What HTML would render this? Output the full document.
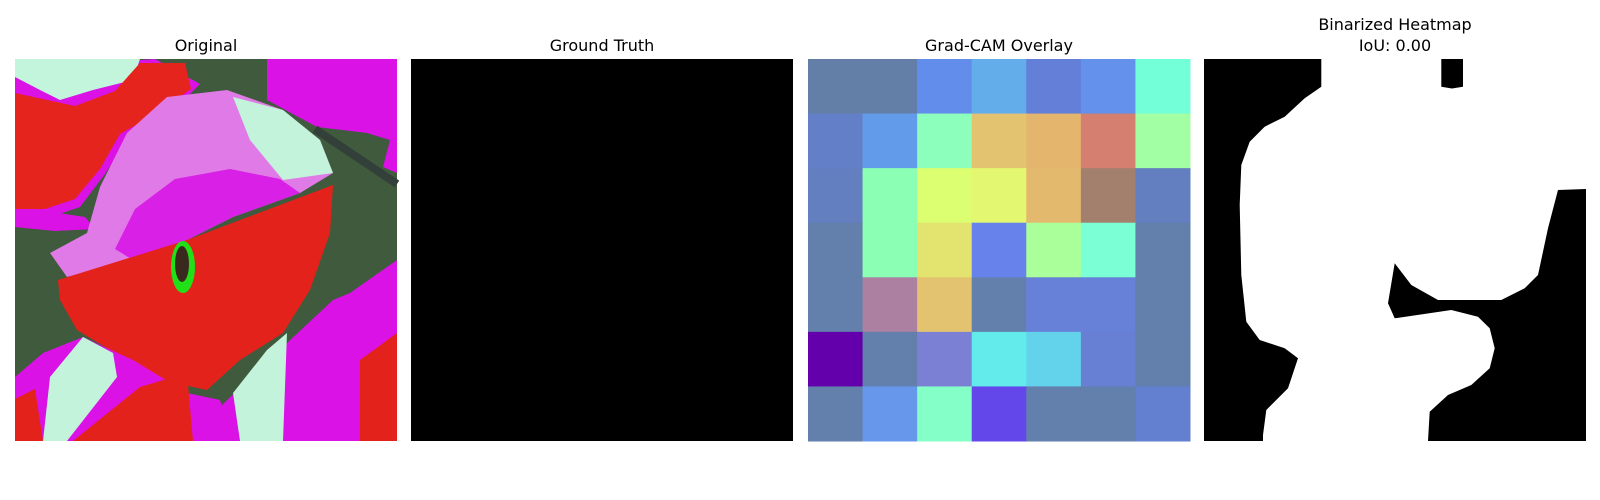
<!DOCTYPE html>
<html><head><meta charset="utf-8"><style>
html,body{margin:0;padding:0;background:#fff;width:1600px;height:500px;overflow:hidden}
svg text{font-family:"DejaVu Sans","Liberation Sans",sans-serif;font-size:16px;fill:#000}
</style></head><body>
<svg id="fig" width="1600" height="500" viewBox="0 0 1600 500">
  <text x="206" y="51" text-anchor="middle">Original</text>
  <text x="602" y="51" text-anchor="middle">Ground Truth</text>
  <text x="999" y="51" text-anchor="middle">Grad-CAM Overlay</text>
  <text x="1395" y="30" text-anchor="middle">Binarized Heatmap</text>
  <text x="1395" y="51" text-anchor="middle">IoU: 0.00</text>

  <g transform="translate(15,59)">
    <rect width="382" height="382" fill="#3f5a3c"/>
    <polygon fill="#da12e6" points="0,10 140,0 185,25 150,60 110,85 90,115 65,148 30,160 0,158"/>
    <polygon fill="#c2f5dc" points="0,0 125,0 118,21 78,31 45,41 25,31 0,18"/>
    <polygon fill="#e6241e" points="0,34 60,47 100,32 125,4 170,4 176,30 140,55 105,75 85,110 60,140 30,150 0,150"/>
    <polygon fill="#da12e6" points="0,150 30,152 70,158 80,170 40,172 0,168"/>
    <polygon fill="#e07ae6" points="35,194 72,174 85,128 112,74 152,38 212,31 268,51 305,81 318,114 285,134 218,158 172,181 118,201 52,218"/>
    <polygon fill="#d820e6" points="120,150 160,120 215,110 265,120 285,134 218,158 172,181 118,201 100,190"/>
    <polygon fill="#c4f3dc" points="218,38 268,51 305,81 318,114 268,121 235,81"/>
    <polygon fill="#e4221c" points="43,221 172,181 318,126 315,174 295,231 268,274 225,301 192,331 145,321 95,291 62,271 45,241"/>
    <ellipse cx="168" cy="208" rx="12" ry="26" fill="#22e018"/>
    <ellipse cx="167" cy="205" rx="7" ry="18" fill="#3a2a1e"/>
    <polygon fill="#da12e6" points="252,0 382,0 382,114 368,108 375,81 352,74 302,68 252,41"/>
    <line x1="300" y1="70" x2="382" y2="125" stroke="#33403a" stroke-width="8"/>
    <polygon fill="#da12e6" points="335,234 382,201 382,382 218,382 205,348 272,284 318,241"/>
    <polygon fill="#e4221c" points="345,301 382,274 382,382 345,382"/>
    <polygon fill="#c4f3dc" points="218,334 252,291 272,274 268,382 225,382"/>
    <polygon fill="#da12e6" points="0,318 28,294 68,278 118,301 172,334 205,341 218,382 0,382"/>
    <polygon fill="#c4f3dc" points="28,382 35,318 68,278 98,294 102,318 52,382"/>
    <polygon fill="#e4221c" points="58,382 125,328 172,314 178,382"/>
    <polygon fill="#e4221c" points="0,340 20,330 28,382 0,382"/>
  </g>

  <rect x="411" y="59" width="382" height="382" fill="#000"/>

  <g id="gradcam" transform="translate(808,59)"></g>

  <g transform="translate(1204,59)">
    <rect width="382" height="382" fill="#000"/>
    <path fill="#fff" d="M117.3,0 L117.3,27.7 L100.7,39.3 L80.7,57.7 L60.7,67.7 L45.7,82.7 L37.3,106 L35.7,146 L37.3,216 L42.3,262.7 L55.7,281 L80.7,289.3 L94,299.3 L84,329.3 L62.3,351 L59,376 L59,382 L224,382 L225.7,352.7 L244,336 L267.3,326 L285.7,309.3 L290.7,289.3 L285.7,269.3 L274,257.7 L247.3,251 L190.7,259.3 L184,244.3 L190.7,204.3 L207.3,226 L234,241 L297.3,241 L320.7,229.3 L334,216 L344,169.3 L354,131 L382,130 L382,0 L259,0 L259,27.7 L248,29.5 L237.3,27.7 L237.3,0 Z"/>
  </g>
</svg>
<script>
const cellColors = [
 ["#637fa8","#637fa8","#638deb","#63adeb","#637fd8","#6391eb","#73ffd8"],
 ["#637fc8","#639beb","#8bffbb","#e3c370","#e3b56d","#d47f70","#a3ffa3"],
 ["#637fc0","#8bffb3","#dbff70","#e3f770","#e3b96d","#a3806d","#637fc0"],
 ["#637fac","#8bffb3","#e3e370","#6783eb","#abff9b","#7bffd4","#637fac"],
 ["#637fac","#ab80a0","#e3c370","#637fac","#6780d8","#6780d8","#637fac"],
 ["#6300ac","#637fac","#7b80d4","#63ebeb","#63d3eb","#6780d4","#637fac"],
 ["#637fac","#6797eb","#83ffc7","#6347eb","#637fac","#637fac","#637fd0"]
];
const gridRows = [0,1,2,3,4,5,6];
const gridCols = [0,1,2,3,4,5,6];
const size = 382;
function xPos(c){return c*size/gridCols.length;}
function yPos(r){return r*size/gridRows.length;}
const g = document.getElementById('gradcam');
const NS = 'http://www.w3.org/2000/svg';
gridRows.forEach(r=>{
  gridCols.forEach(c=>{
    const el = document.createElementNS(NS,'rect');
    el.setAttribute('x', xPos(c));
    el.setAttribute('y', yPos(r));
    el.setAttribute('width', xPos(c+1)-xPos(c)+0.5);
    el.setAttribute('height', yPos(r+1)-yPos(r)+0.5);
    el.setAttribute('fill', cellColors[r][c]);
    
    
    g.appendChild(el);
  });
});
</script>
</body></html>
